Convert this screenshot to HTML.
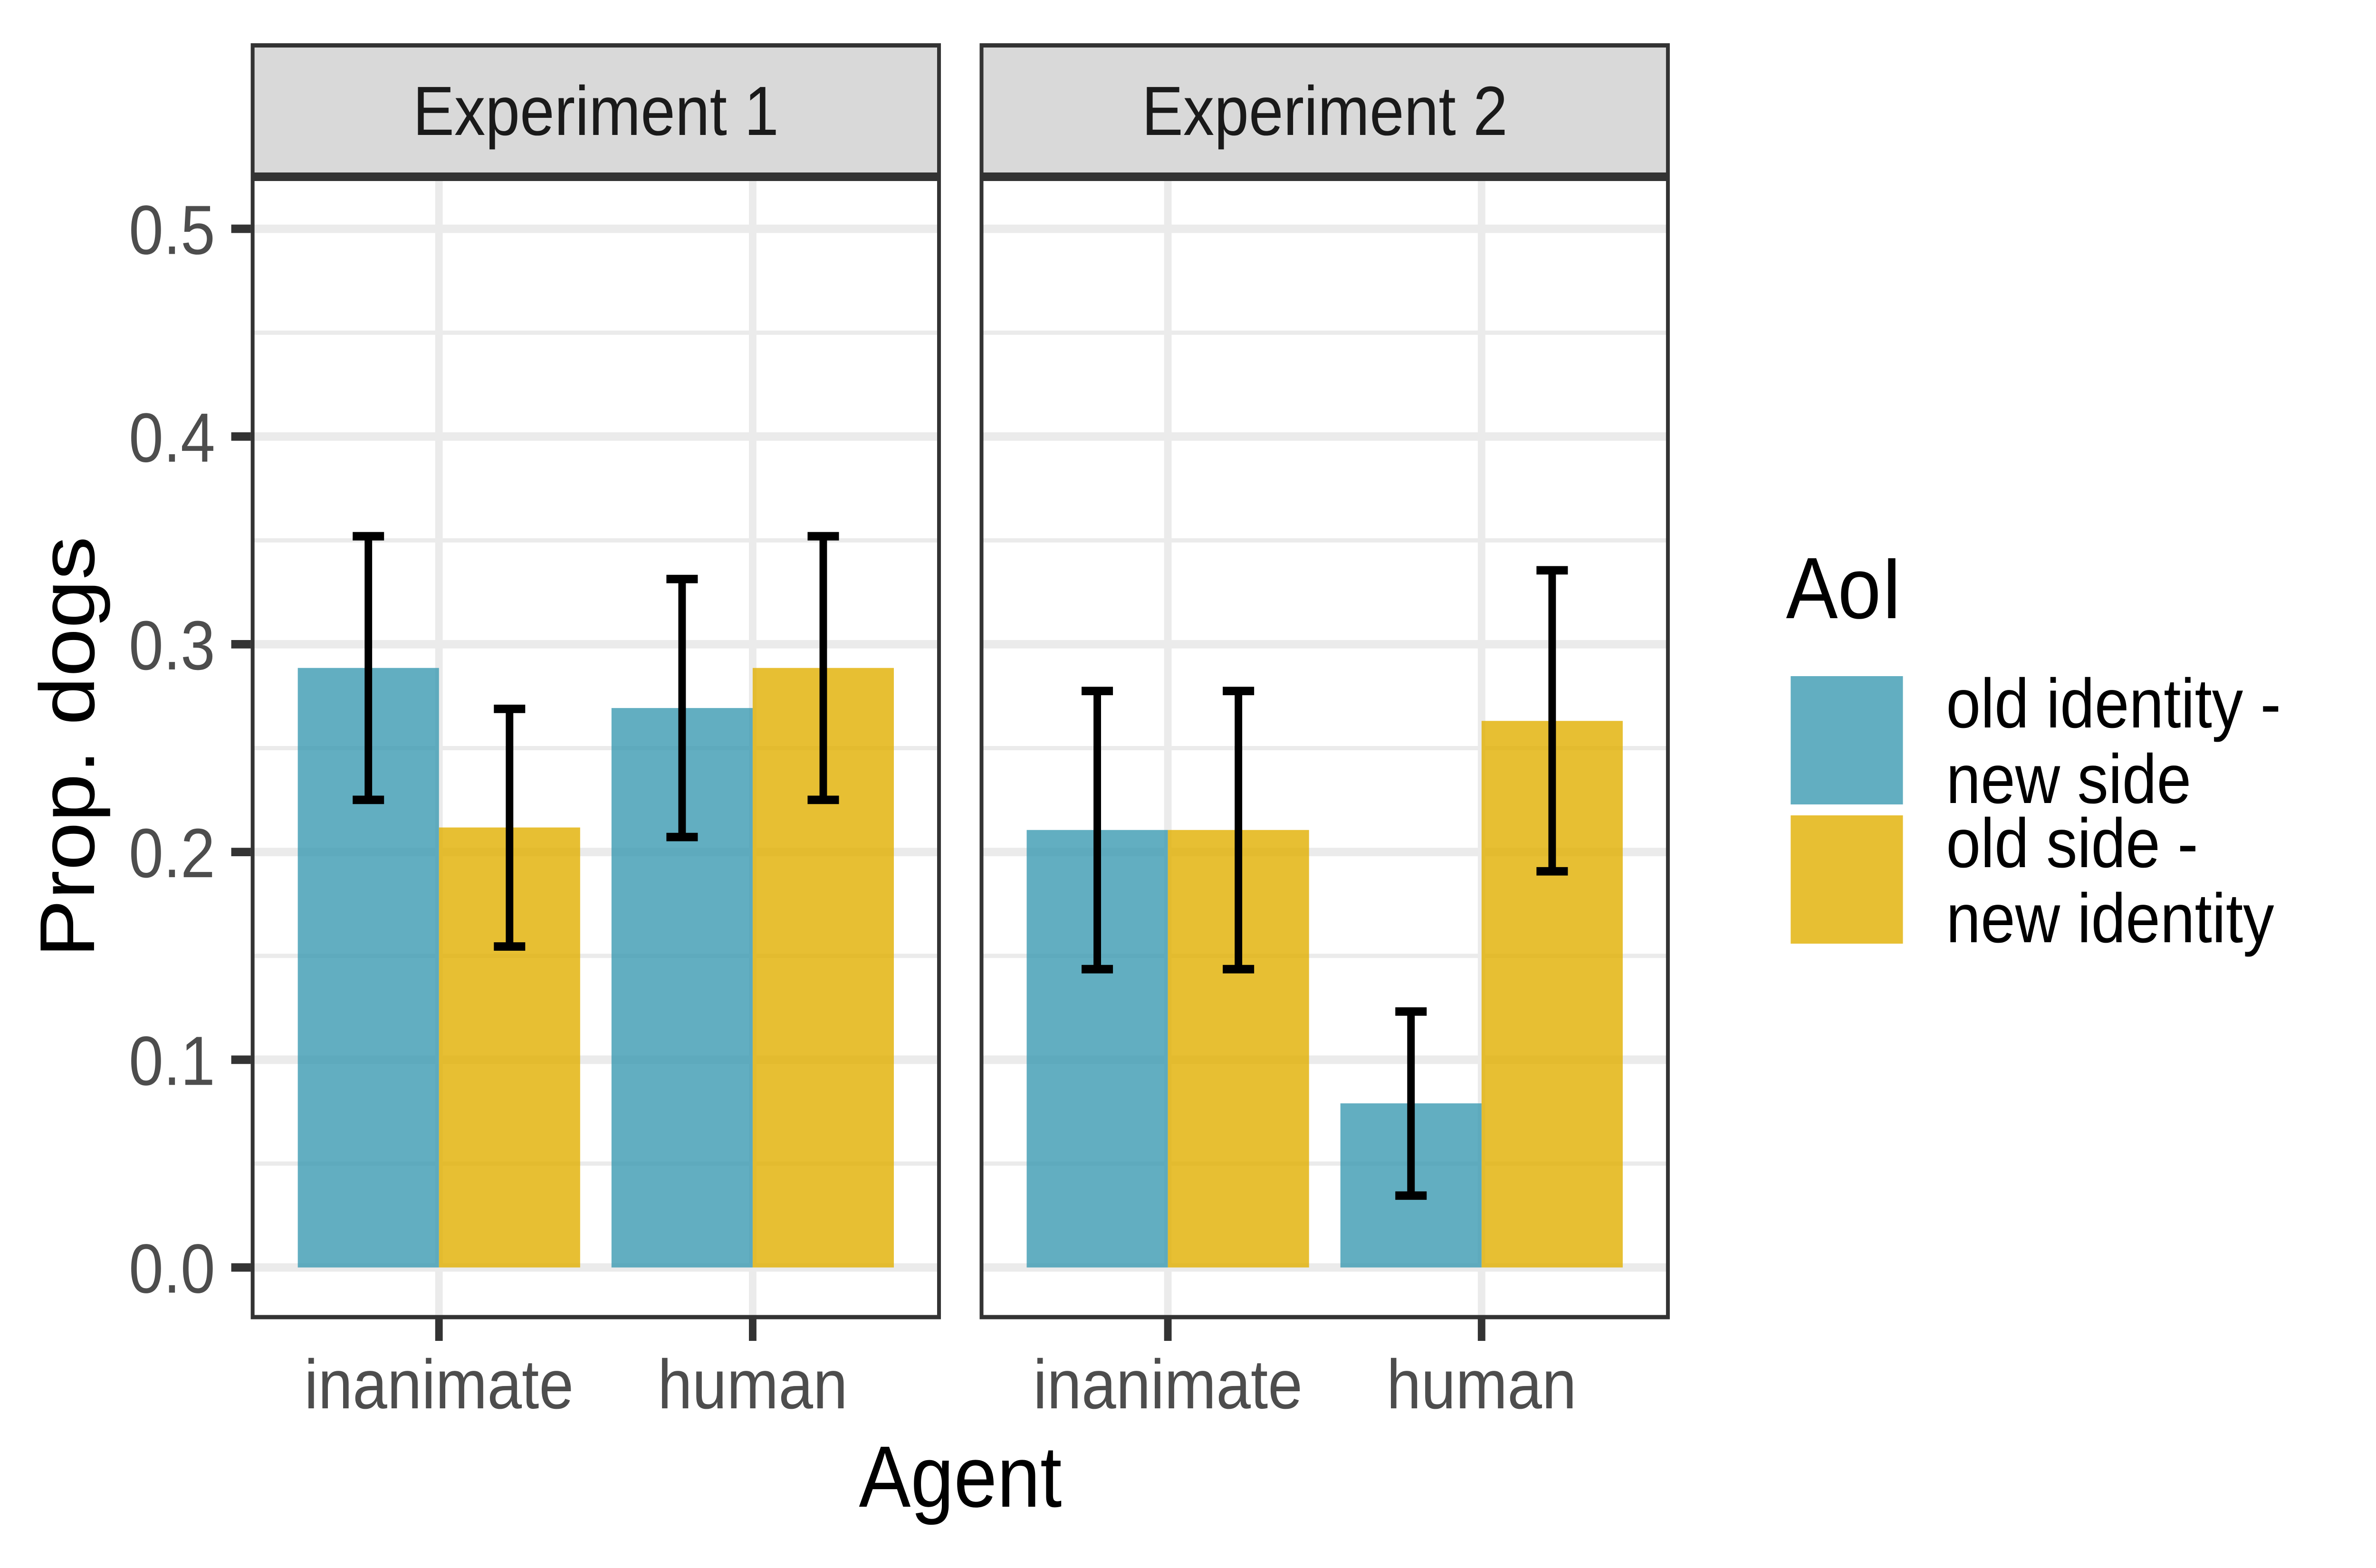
<!DOCTYPE html>
<html lang="en">
<head>
<meta charset="utf-8">
<title>Proportion of dogs by agent and AoI</title>
<style>
  html, body { margin: 0; padding: 0; background: #ffffff; width: 100%; height: 100%; overflow: hidden; }
  svg { display: block; width: 100vw; height: 100vh; }
  text { font-family: "Liberation Sans", Arial, sans-serif; }
</style>
</head>
<body>
<svg id="chart" xmlns="http://www.w3.org/2000/svg" viewBox="0 0 5610 3300" preserveAspectRatio="none">
  <rect x="0" y="0" width="5610" height="3300" fill="#ffffff"/>

  <g id="panels"></g>

  <rect x="596.5" y="95.5" width="1620.6" height="272" fill="#d9d9d9" stroke="#333333" stroke-width="9"/>
  <text x="1406.8" y="284" font-size="146.67" fill="#1a1a1a" text-anchor="middle">Experiment 1</text>
  <rect x="2317.5" y="95.5" width="1620.6" height="272" fill="#d9d9d9" stroke="#333333" stroke-width="9"/>
  <text x="3127.8" y="284" font-size="146.67" fill="#1a1a1a" text-anchor="middle">Experiment 2</text>

  <text transform="translate(222 1572) rotate(-90)" font-size="183.33" fill="#000000" text-anchor="middle">Prop. dogs</text>
  <text x="2267.5" y="3171" font-size="183.33" fill="#000000" text-anchor="middle">Agent</text>

  <g>
    <text x="4217" y="1301" font-size="183.33" fill="#000000">AoI</text>
    <rect x="4228" y="1423" width="265" height="270" fill="#3B9AB2" fill-opacity="0.8"/>
    <text x="4595" y="1531" font-size="146.67" fill="#000000">old identity -</text>
    <text x="4595" y="1690" font-size="146.67" fill="#000000">new side</text>
    <rect x="4228" y="1716" width="265" height="270" fill="#E1AF00" fill-opacity="0.8"/>
    <text x="4595" y="1825" font-size="146.67" fill="#000000">old side -</text>
    <text x="4595" y="1983" font-size="146.67" fill="#000000">new identity</text>
  </g>
</svg>

<script>
// ---- data ----
const categories = ['inanimate', 'human'];
const seriesNames = ['old-identity-new-side', 'old-side-new-identity'];
const yMajorTicks = [0.0, 0.1, 0.2, 0.3, 0.4, 0.5];
const yTickLabels = ['0.0', '0.1', '0.2', '0.3', '0.4', '0.5'];
const yMinorTicks = [0.05, 0.15, 0.25, 0.35, 0.45];
const seriesColors = ['#3B9AB2', '#E1AF00'];

// values listed per series, in category order
const exp1OldIdentity = [0.2886, 0.2693];
const exp1OldSide = [0.2118, 0.2886];
const exp1OldIdentityUpper = [0.3520, 0.3314];
const exp1OldSideUpper = [0.2689, 0.3520];
const exp1OldIdentityLower = [0.2251, 0.2072];
const exp1OldSideLower = [0.1545, 0.2251];

const exp2OldIdentity = [0.2106, 0.0790];
const exp2OldSide = [0.2106, 0.2631];
const exp2OldIdentityUpper = [0.2775, 0.1232];
const exp2OldSideUpper = [0.2775, 0.3356];
const exp2OldIdentityLower = [0.1436, 0.0346];
const exp2OldSideLower = [0.1436, 0.1907];

const experiment1 = {
  slug: 'experiment-1',
  values: [exp1OldIdentity, exp1OldSide],
  upper: [exp1OldIdentityUpper, exp1OldSideUpper],
  lower: [exp1OldIdentityLower, exp1OldSideLower]
};
const experiment2 = {
  slug: 'experiment-2',
  values: [exp2OldIdentity, exp2OldSide],
  upper: [exp2OldIdentityUpper, exp2OldSideUpper],
  lower: [exp2OldIdentityLower, exp2OldSideLower]
};
const experiments = [experiment1, experiment2];

// ---- layout ----
const SVG_NS = 'http://www.w3.org/2000/svg';
const panelLefts = [592, 2313];
const panelWidth = 1629.6;
const panelTop = 372;
const panelBottom = 2776.5;
const border = 9;
const majorWidth = 17.8;
const minorWidth = 9;
const barWidthUnits = 0.45;
const capHalfUnits = 0.05;
const root = document.getElementById('panels');

// ---- axis functions ----
function yScale(v) {
  return 2667.5 - 4372 * v;
}
function xScale(panelIndex, u) {
  return panelLefts[panelIndex] + (u - 0.4) * panelWidth / 2.2;
}

// ---- drawing primitives ----
function make(tag, attrs) {
  const el = document.createElementNS(SVG_NS, tag);
  Object.keys(attrs).forEach(function (k) { el.setAttribute(k, attrs[k]); });
  root.appendChild(el);
  return el;
}
function line(x1, y1, x2, y2, color, width) {
  return make('line', { x1: x1, y1: y1, x2: x2, y2: y2, stroke: color, 'stroke-width': width });
}

// ---- panels ----
experiments.forEach(function (exp, p) {
  const left = panelLefts[p];
  const right = left + panelWidth;

  // minor horizontal grid
  yMinorTicks.forEach(function (t) {
    const el = line(left, yScale(t), right, yScale(t), '#ebebeb', minorWidth);
    
    
  });
  // major horizontal grid
  yMajorTicks.forEach(function (t, i) {
    const el = line(left, yScale(t), right, yScale(t), '#ebebeb', majorWidth);
    
    
  });
  // vertical grid
  categories.forEach(function (c, i) {
    const x = xScale(p, i + 1);
    const el = line(x, panelTop, x, panelBottom, '#ebebeb', majorWidth);
    
    
  });

  // bars
  seriesNames.forEach(function (s, si) {
    categories.forEach(function (c, ci) {
      const x0 = xScale(p, ci + 1 + (si - 1) * barWidthUnits);
      const x1 = xScale(p, ci + 1 + si * barWidthUnits);
      const v = exp.values[si][ci];
      const bar = make('rect', {
        x: x0, y: yScale(v), width: x1 - x0, height: yScale(0) - yScale(v),
        fill: seriesColors[si], 'fill-opacity': 0.8
      });
      
      
    });
  });

  // error bars
  seriesNames.forEach(function (s, si) {
    categories.forEach(function (c, ci) {
      const u = ci + 1 + (si - 0.5) * barWidthUnits;
      const x = xScale(p, u);
      const xa = xScale(p, u - capHalfUnits);
      const xb = xScale(p, u + capHalfUnits);
      const hi = yScale(exp.upper[si][ci]);
      const lo = yScale(exp.lower[si][ci]);

      const stem = line(x, hi, x, lo, '#000000', 17.8);
      
      

      const capTop = line(xa, hi, xb, hi, '#000000', 17.8);
      
      

      const capBottom = line(xa, lo, xb, lo, '#000000', 17.8);
      
      
    });
  });

  // panel border
  const frame = make('rect', {
    x: left + border / 2, y: panelTop + border / 2,
    width: panelWidth - border, height: panelBottom - panelTop - border,
    fill: 'none', stroke: '#333333', 'stroke-width': border
  });
  
  

  // x ticks + labels
  categories.forEach(function (c, i) {
    const x = xScale(p, i + 1);
    const tick = line(x, panelBottom, x, 2822, '#333333', majorWidth);
    
    

    const label = make('text', {
      x: x, y: 2964, 'font-size': 146.67, fill: '#4d4d4d', 'text-anchor': 'middle'
    });
    label.textContent = c;
    
    
  });
});

// y axis ticks + labels (first panel only)
yMajorTicks.forEach(function (t, i) {
  const y = yScale(t);
  const tick = line(546, y, 592, y, '#333333', majorWidth);
  
  

  const label = make('text', {
    x: 508, y: y + 53, 'font-size': 146.67, fill: '#4d4d4d', 'text-anchor': 'end'
  });
  label.textContent = yTickLabels[i];
  
  
});
</script>
</body>
</html>
